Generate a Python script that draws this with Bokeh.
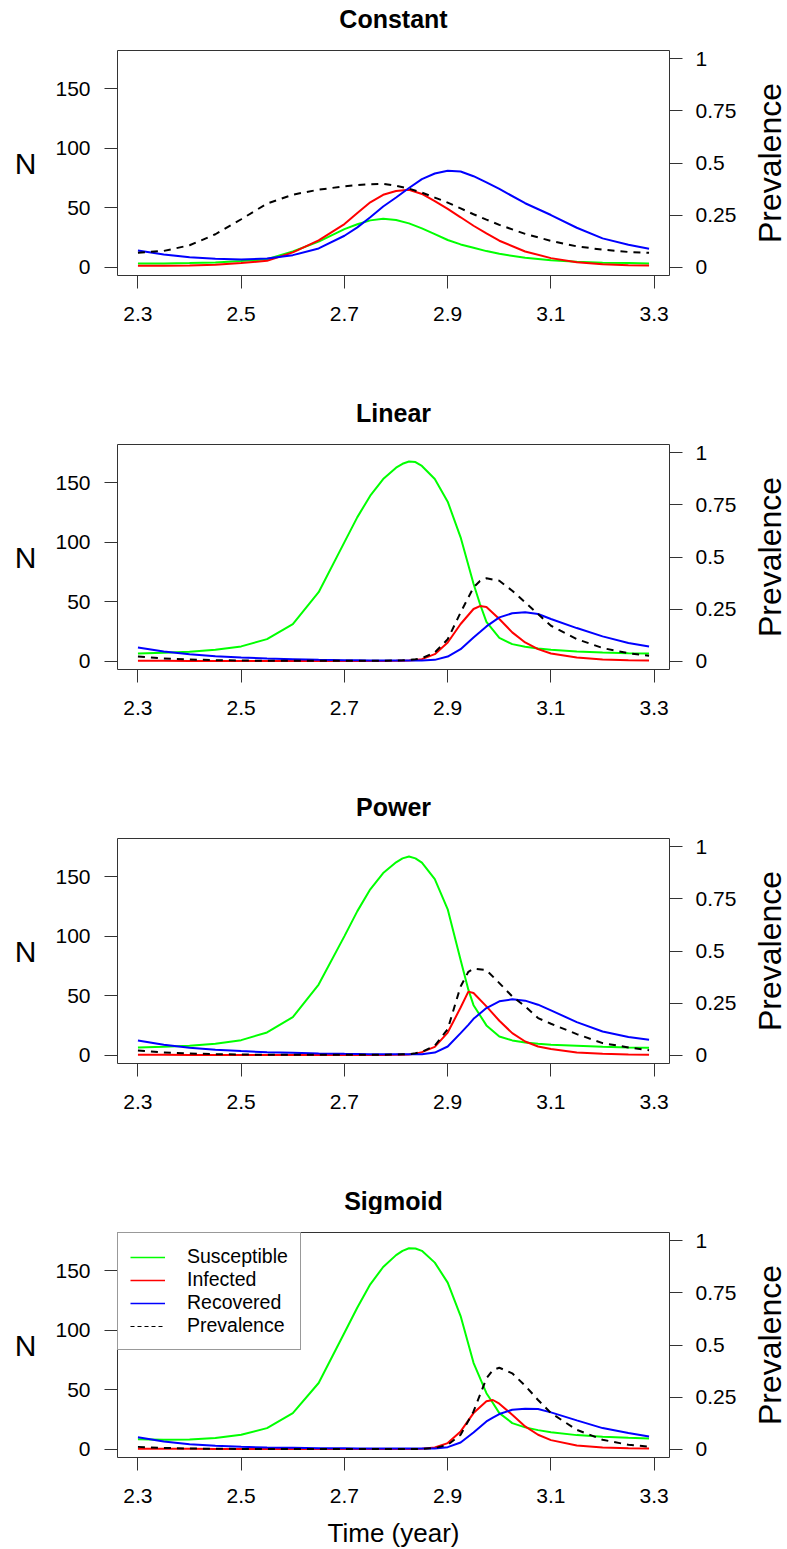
import math
from bokeh.plotting import figure
from bokeh.layouts import column, row
from bokeh.models import Range1d, LinearAxis, FixedTicker, Legend, LegendItem
from bokeh.core.properties import value
from bokeh.embed import file_html
from bokeh.resources import INLINE

FONT = "Liberation Sans"

panel_titles = ["Constant", "Linear", "Power", "Sigmoid"]
series_names = ["Susceptible", "Infected", "Recovered", "Prevalence"]
x_label = "Time (year)"
left_label = "N"
right_label = "Prevalence"
x_ticks = [2.3, 2.5, 2.7, 2.9, 3.1, 3.3]
n_ticks = [0, 50, 100, 150]
prev_ticks = [0, 0.25, 0.5, 0.75, 1]
prev_tick_labels = ["0", "0.25", "0.5", "0.75", "1"]

# ---- Constant ----
t_const = [2.30, 2.35, 2.40, 2.45, 2.50, 2.55, 2.60, 2.65, 2.70, 2.725, 2.75, 2.775, 2.80, 2.825,
           2.85, 2.875, 2.90, 2.925, 2.95, 2.975, 3.00, 3.05, 3.10, 3.15, 3.20, 3.25, 3.29]
S_const = [3.1, 3.1, 3.4, 3.9, 5.1, 6.7, 13.2, 21.5, 32.0, 36.0, 39.3, 40.7, 39.6, 36.8,
           32.6, 27.8, 22.8, 19.1, 16.3, 13.5, 11.2, 7.9, 5.9, 4.5, 3.7, 3.4, 3.1]
I_const = [1.1, 1.1, 1.4, 2.0, 3.4, 5.3, 12.4, 22.5, 36.2, 45.5, 54.5, 60.8, 64.0, 65.0,
           61.5, 55.5, 48.9, 41.9, 34.8, 28.4, 22.2, 13.2, 7.6, 4.2, 2.5, 1.7, 1.4]
R_const = [14.0, 10.7, 8.4, 7.0, 6.5, 7.3, 10.1, 15.7, 26.4, 33.4, 42.0, 51.0, 58.5, 66.5,
           74.0, 78.7, 81.0, 80.4, 76.4, 71.3, 65.7, 53.7, 43.8, 33.1, 24.2, 18.8, 15.4]
P_const = [0.069, 0.078, 0.105, 0.158, 0.230, 0.305, 0.348, 0.372, 0.388, 0.394, 0.398, 0.400, 0.391, 0.377,
           0.358, 0.334, 0.310, 0.282, 0.254, 0.228, 0.203, 0.160, 0.126, 0.100, 0.084, 0.073, 0.069]

# ---- Linear ----
t_lin = [2.30, 2.35, 2.40, 2.45, 2.50, 2.55, 2.60, 2.65, 2.70, 2.725, 2.75, 2.775, 2.80, 2.8125, 2.825, 2.8375,
         2.85, 2.875, 2.90, 2.925, 2.95, 2.9625, 2.975, 3.00, 3.025, 3.05, 3.075, 3.10, 3.15, 3.20, 3.25, 3.29]
S_lin = [6.5, 7.0, 7.9, 9.6, 12.4, 18.5, 31.2, 57.9, 100.0, 121.0, 139.0, 153.0, 162.5, 165.8, 167.7, 167.2,
         164.0, 153.0, 134.0, 104.0, 65.0, 48.0, 33.0, 19.5, 14.3, 12.1, 10.7, 9.6, 8.1, 7.3, 6.7, 6.5]
I_lin = [0.3, 0.3, 0.2, 0.2, 0.2, 0.2, 0.2, 0.2, 0.2, 0.2, 0.2, 0.2, 0.3, 0.4, 0.6, 1.0,
         1.7, 5.9, 15.7, 31.2, 43.8, 46.3, 45.5, 35.4, 24.2, 15.7, 10.1, 6.5, 3.1, 1.4, 0.8, 0.6]
R_lin = [11.5, 8.1, 5.9, 4.2, 3.1, 2.2, 1.7, 1.1, 0.8, 0.7, 0.6, 0.6, 0.6, 0.6, 0.6, 0.6,
         0.6, 1.1, 3.9, 10.1, 19.9, 24.5, 29.2, 36.8, 40.2, 41.0, 39.6, 35.4, 27.8, 20.8, 15.2, 12.4]
P_lin = [0.022, 0.013, 0.008, 0.005, 0.003, 0.002, 0.002, 0.002, 0.002, 0.002, 0.002, 0.002, 0.003, 0.004, 0.006,
         0.009, 0.014, 0.042, 0.105, 0.234, 0.354, 0.385, 0.398, 0.386, 0.338, 0.282, 0.226, 0.170, 0.106, 0.063,
         0.038, 0.026]

# ---- Power ----
t_pow = [2.30, 2.35, 2.40, 2.45, 2.50, 2.55, 2.60, 2.65, 2.70, 2.725, 2.75, 2.775, 2.80, 2.8125, 2.825, 2.8375,
         2.85, 2.875, 2.90, 2.925, 2.94, 2.95, 2.975, 3.00, 3.025, 3.05, 3.075, 3.10, 3.15, 3.20, 3.25, 3.29]
S_pow = [6.5, 7.0, 7.9, 9.6, 12.6, 19.1, 32.0, 59.3, 100.0, 121.0, 139.3, 153.0, 162.0, 165.3, 166.9, 165.3,
         161.8, 147.8, 122.5, 80.0, 55.0, 42.0, 25.0, 15.7, 12.4, 10.7, 9.6, 8.7, 7.9, 7.0, 6.5, 6.2]
I_pow = [0.3, 0.3, 0.2, 0.2, 0.2, 0.2, 0.2, 0.2, 0.2, 0.2, 0.2, 0.2, 0.3, 0.4, 0.6, 1.3,
         2.5, 7.0, 19.0, 40.0, 53.4, 52.2, 41.0, 28.9, 18.5, 11.5, 7.3, 5.1, 2.2, 1.1, 0.6, 0.3]
R_pow = [12.4, 8.7, 6.2, 4.5, 3.4, 2.5, 2.0, 1.4, 1.1, 1.0, 0.8, 0.8, 0.8, 0.8, 0.8, 0.8,
         0.8, 2.2, 7.3, 18.5, 25.5, 30.5, 39.6, 45.2, 46.9, 45.8, 42.4, 37.6, 27.8, 19.9, 15.2, 12.9]
P_pow = [0.022, 0.013, 0.008, 0.005, 0.003, 0.002, 0.002, 0.002, 0.002, 0.002, 0.002, 0.002, 0.003, 0.004, 0.005,
         0.009, 0.016, 0.045, 0.125, 0.330, 0.400, 0.415, 0.408, 0.346, 0.282, 0.234, 0.178, 0.151, 0.101, 0.058,
         0.037, 0.024]

# ---- Sigmoid ----
t_sig = [2.30, 2.35, 2.40, 2.45, 2.50, 2.55, 2.60, 2.65, 2.70, 2.725, 2.75, 2.775, 2.80, 2.8125, 2.825, 2.8375,
         2.85, 2.875, 2.90, 2.925, 2.95, 2.975, 2.9875, 3.00, 3.025, 3.05, 3.075, 3.10, 3.15, 3.20, 3.25, 3.29]
S_sig = [8.4, 7.9, 8.1, 9.3, 12.1, 17.7, 30.3, 55.6, 97.8, 119.0, 138.5, 153.0, 163.0, 166.6, 168.8, 168.6,
         166.6, 156.7, 139.9, 111.8, 72.5, 47.0, 38.8, 30.3, 21.9, 18.3, 16.0, 14.3, 11.8, 10.4, 9.6, 9.0]
I_sig = [0.4, 0.3, 0.3, 0.2, 0.2, 0.2, 0.2, 0.2, 0.2, 0.2, 0.2, 0.2, 0.2, 0.2, 0.2, 0.2,
         0.3, 1.4, 5.1, 14.9, 30.3, 40.2, 41.3, 38.2, 28.9, 19.1, 12.1, 7.6, 3.1, 1.4, 0.8, 0.6]
R_sig = [10.1, 6.5, 4.2, 2.8, 2.0, 1.4, 1.1, 0.8, 0.8, 0.6, 0.6, 0.6, 0.6, 0.6, 0.6, 0.6,
         0.6, 0.6, 1.7, 5.6, 14.0, 23.3, 26.5, 29.5, 33.1, 34.0, 33.8, 30.9, 24.2, 17.7, 13.5, 10.7]
P_sig = [0.011, 0.006, 0.003, 0.002, 0.001, 0.001, 0.001, 0.001, 0.001, 0.001, 0.001, 0.001, 0.001, 0.001, 0.001,
         0.001, 0.002, 0.005, 0.021, 0.069, 0.181, 0.340, 0.380, 0.391, 0.364, 0.305, 0.236, 0.173, 0.093, 0.045,
         0.021, 0.012]

panels = [
    (t_const, S_const, I_const, R_const, P_const),
    (t_lin, S_lin, I_lin, R_lin, P_lin),
    (t_pow, S_pow, I_pow, R_pow, P_pow),
    (t_sig, S_sig, I_sig, R_sig, P_sig),
]

COL_S, COL_I, COL_R, COL_P = "#00ff00", "#ff0000", "#0000ff", "#000000"
EDGE = "#333333"
PAGE_W = 787
SIDE_W = 36
MAIN_W = PAGE_W - SIDE_W
PANEL_H = [394, 394, 394, 367]
TITLE_H = 32            # strip holding the panel title
XLAB_H = 36             # strip under the last panel holding the x label
FRAME_TOP = 50          # frame top measured from panel top
FRAME_H = 225
LEFT = 117
RIGHT = MAIN_W - 669
X_LO, X_HI = 2.2604, 3.3296
FRAME_CX = (LEFT + 669) / 2


def bare_fig(w, h, xr, yr, **kw):
    f = figure(width=w, height=h, output_backend="svg", toolbar_location=None,
               x_range=xr, y_range=yr, x_axis_type=None, y_axis_type=None,
               min_border_left=0, min_border_right=0, min_border_top=kw.get("top", 0),
               min_border_bottom=kw.get("bottom", 0),
               background_fill_color="white", border_fill_color="white")
    f.outline_line_color = None
    f.xgrid.visible = False
    f.ygrid.visible = False
    return f


def text_strip(w, h, text, cx, cy_from_top, size, bold=False):
    f = bare_fig(w, h, Range1d(0, w), Range1d(0, h))
    f.text(x=[cx], y=[h - cy_from_top], text=[text], text_align="center", text_baseline="middle",
           text_font=value(FONT), text_font_size=size,
           text_font_style="bold" if bold else "normal", text_color="black")
    return f


def style_axis(ax):
    ax.axis_line_color = None
    ax.major_tick_line_color = EDGE
    ax.major_tick_line_width = 1
    ax.major_tick_out = 13
    ax.major_tick_in = 0
    ax.minor_tick_line_color = None
    ax.major_label_text_font = FONT
    ax.major_label_text_font_size = "21px"
    ax.major_label_text_color = "black"
    ax.axis_label_text_font = FONT
    ax.axis_label_text_font_style = "normal"
    ax.axis_label_text_color = "black"


def make_panel(k):
    t, S, I, R, P = panels[k]
    last = k == len(panels) - 1
    main_h = PANEL_H[k] - TITLE_H - (XLAB_H if last else 0)
    top = FRAME_TOP - TITLE_H
    bottom = main_h - top - FRAME_H

    p = figure(width=MAIN_W, height=main_h, output_backend="svg", toolbar_location=None,
               x_range=Range1d(X_LO, X_HI), y_range=Range1d(-7, 182),
               min_border_left=LEFT, min_border_right=RIGHT,
               min_border_top=top, min_border_bottom=bottom,
               background_fill_color="white", border_fill_color="white")
    prev_range = Range1d(-0.04, 1.04)
    p.extra_y_ranges = {"prev": prev_range}
    p.xgrid.visible = False
    p.ygrid.visible = False
    p.outline_line_color = EDGE
    p.outline_line_width = 1

    xa = p.xaxis[0]
    style_axis(xa)
    xa.ticker = FixedTicker(ticks=x_ticks)
    xa.major_label_overrides = {v: str(v) for v in x_ticks}
    xa.major_label_standoff = 18

    ya = p.yaxis[0]
    style_axis(ya)
    ya.ticker = FixedTicker(ticks=n_ticks)
    ya.major_label_standoff = 14
    ya.axis_label = left_label
    ya.axis_label_text_font_size = "30px"
    ya.axis_label_orientation = "horizontal"
    ya.axis_label_standoff = 16

    ra = LinearAxis(y_range_name="prev")
    style_axis(ra)
    ra.ticker = FixedTicker(ticks=prev_ticks)
    ra.major_label_overrides = dict(zip(prev_ticks, prev_tick_labels))
    ra.major_label_standoff = 13
    p.add_layout(ra, "right")

    p.line(t, S, color=COL_S, line_width=2)
    p.line(t, I, color=COL_I, line_width=2)
    p.line(t, R, color=COL_R, line_width=2)
    p.line(t, P, color=COL_P, line_width=2, line_dash="7 6", y_range_name="prev")

    if last:
        nan2 = [math.nan, math.nan]
        rs = p.line(nan2, nan2, color=COL_S, line_width=1.5)
        ri = p.line(nan2, nan2, color=COL_I, line_width=1.5)
        rr = p.line(nan2, nan2, color=COL_R, line_width=1.5)
        rp = p.line(nan2, nan2, color=COL_P, line_width=1.2, line_dash="4 3")
        legend = Legend(items=[LegendItem(label=n, renderers=[r])
                               for n, r in zip(series_names, [rs, ri, rr, rp])],
                        location="top_left")
        legend.margin = 0
        legend.padding = 12
        legend.spacing = 0
        legend.glyph_width = 35
        legend.glyph_height = 22
        legend.label_height = 22
        legend.label_standoff = 22
        legend.label_text_font = FONT
        legend.label_text_font_size = "19.5px"
        legend.label_text_color = "black"
        legend.border_line_color = EDGE
        legend.border_line_width = 1
        legend.background_fill_color = "white"
        legend.background_fill_alpha = 1
        p.add_layout(legend)

    # right-hand rotated label, drawn in a narrow strip sharing the prevalence scale
    side = bare_fig(SIDE_W, main_h, Range1d(0, 1), Range1d(-0.04, 1.04), top=top, bottom=bottom)
    side.text(x=[0.5], y=[0.5], text=[right_label], angle=math.pi / 2,
              text_align="center", text_baseline="middle",
              text_font=value(FONT), text_font_size="32px", text_color="black")

    title = text_strip(PAGE_W, TITLE_H, panel_titles[k], FRAME_CX, 18, "25px", bold=True)
    parts = [title, row(p, side, spacing=0)]
    if last:
        parts.append(text_strip(PAGE_W, XLAB_H, x_label, FRAME_CX, 19, "26px"))
    return column(*parts, spacing=0)


layout = column(*[make_panel(k) for k in range(len(panels))], spacing=0)

open("out.html", "w").write(file_html(layout, INLINE))
